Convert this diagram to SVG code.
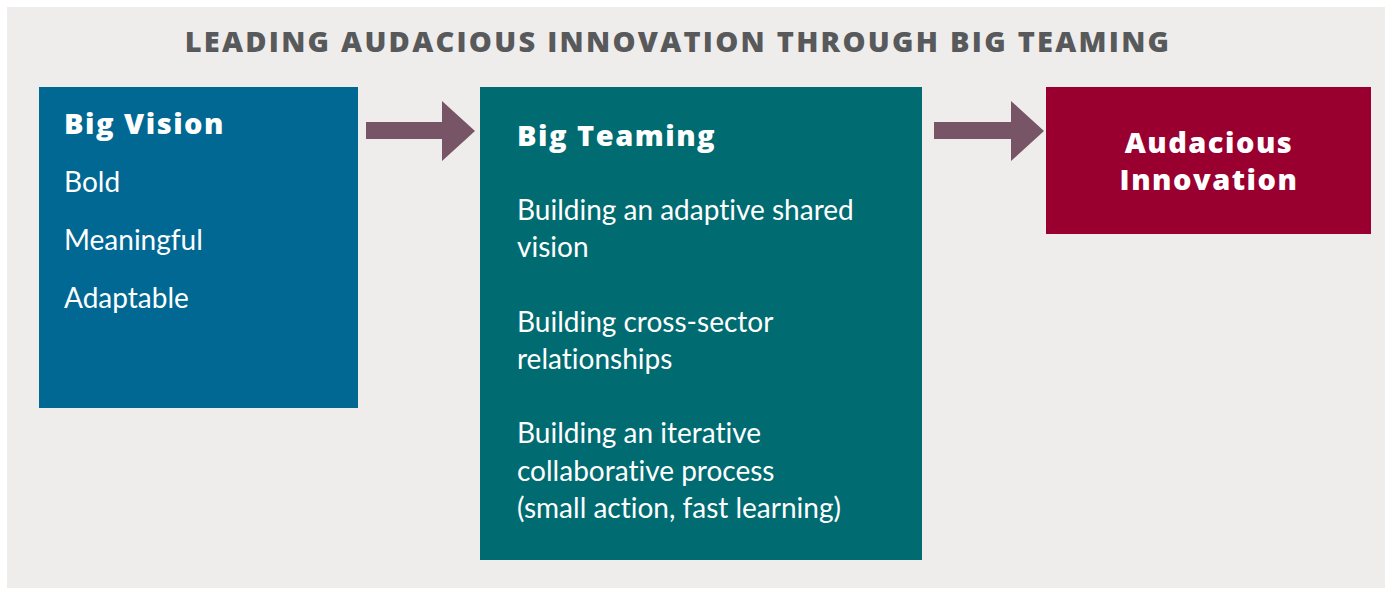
<svg xmlns="http://www.w3.org/2000/svg" width="1390" height="589" viewBox="0 0 1390 589">
<style>
.t{font-family:Lato,"Liberation Sans",sans-serif;fill:#fff;font-size:28px;font-variant-ligatures:none}
.b{font-family:"Open Sans","Liberation Sans",sans-serif;font-weight:800;font-size:29px;letter-spacing:1.5px}
.title{font-family:"Open Sans","Liberation Sans",sans-serif;font-weight:800;font-size:29px;fill:#58595B;letter-spacing:2.25px}
.arrow{fill:#775466}
</style>
<rect x="0" y="0" width="1390" height="589" fill="#fff"/>
<rect x="7" y="7" width="1378" height="581" fill="#EFEDEB"/>
<text class="title" x="678" y="52" text-anchor="middle">LEADING AUDACIOUS INNOVATION THROUGH BIG TEAMING</text>
<g id="big-vision">
<rect x="39" y="87" width="319" height="321" fill="#006892"/>
<text class="t b" x="64" y="134">Big Vision</text>
<text class="t" x="64" y="192">Bold</text>
<text class="t" x="64" y="250">Meaningful</text>
<text class="t" x="64" y="308">Adaptable</text>
</g>
<g id="big-teaming">
<rect x="480" y="87" width="442" height="473" fill="#006B71"/>
<text class="t b" x="517" y="146">Big Teaming</text>
<text class="t" x="517" y="220">Building an adaptive shared</text>
<text class="t" x="517" y="257">vision</text>
<text class="t" x="517" y="332">Building cross-sector</text>
<text class="t" x="517" y="369">relationships</text>
<text class="t" x="517" y="443">Building an iterative</text>
<text class="t" x="517" y="481">collaborative process</text>
<text class="t" x="517" y="518">(small action, fast learning)</text>
</g>
<g id="audacious-innovation">
<rect x="1046" y="87" width="325" height="147" fill="#990030"/>
<text class="t b" x="1209" y="153" text-anchor="middle">Audacious</text>
<text class="t b" x="1209" y="190" text-anchor="middle">Innovation</text>
</g>
<g id="connectors">
<polygon class="arrow" points="366,122 442,122 442,101 475,131 442,161 442,139 366,139"/>
<polygon class="arrow" points="934,122 1011,122 1011,101 1044,131 1011,161 1011,139 934,139"/>
</g>
</svg>
